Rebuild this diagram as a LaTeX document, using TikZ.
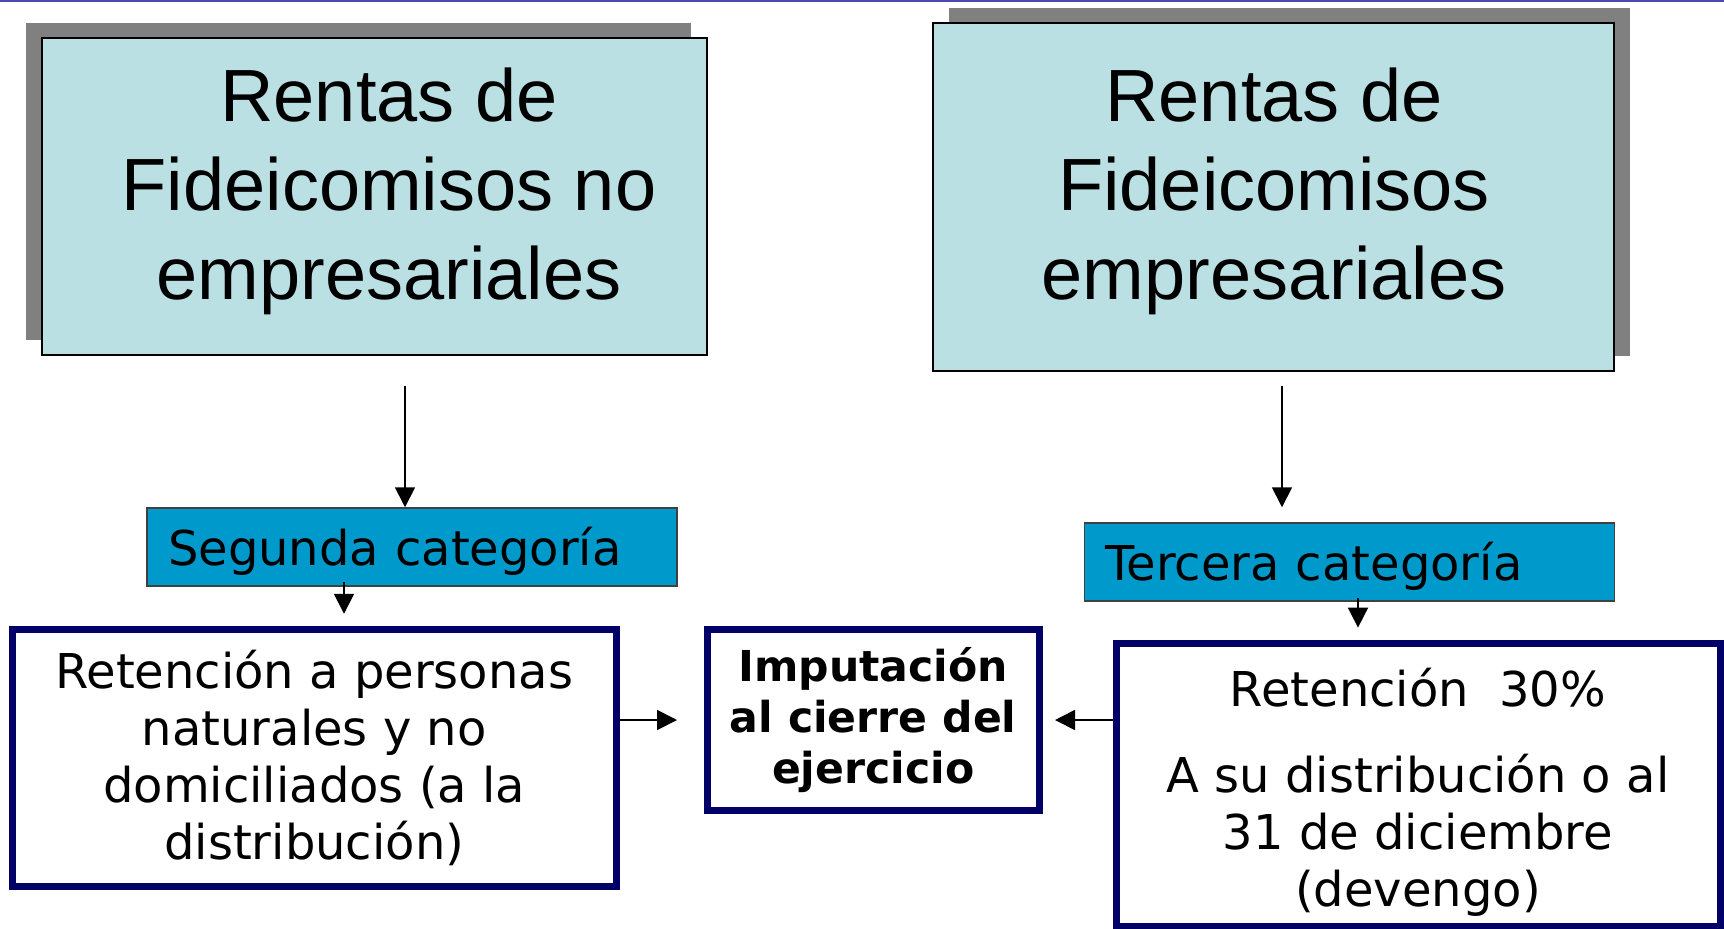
\documentclass[tikz,border=0pt]{standalone}
\usepackage{fontspec}
\newfontfamily\arialfont{Liberation Sans}
\newfontfamily\verdanafont{DejaVu Sans}
\usetikzlibrary{arrows.meta,shadows}

\definecolor{cajaclara}{HTML}{BBE0E3}
\definecolor{cajaazul}{HTML}{0099CC}
\definecolor{marino}{HTML}{000066}
\definecolor{lineatop}{HTML}{4A4AB0}

\tikzset{
    rentas/.style={draw=black, line width=1pt, fill=cajaclara},
    rentastxt/.style={align=center, inner sep=0pt,
	font=\arialfont\fontsize{37pt}{44.5pt}\selectfont},
    categ/.style={draw=black!75, line width=0.75pt, fill=cajaazul,
	text width=244pt, align=left, inner xsep=10.5pt,
	minimum height=39pt, text height=18pt, text depth=0pt,
	font=\verdanafont\fontsize{24pt}{28.5pt}\selectfont},
    reten/.style={draw=marino, line width=3.5pt, fill=white, align=center,
	font=\verdanafont\fontsize{24pt}{28.5pt}\selectfont},
    arr/.style={-{Triangle[length=10pt, width=10pt]}, line width=0.9pt}
}

\begin{document}
\begin{tikzpicture}[x=0.5pt, y=-0.5pt]
    \useasboundingbox (0, 0) rectangle (1724, 928);
    \clip (0, 0) rectangle (1724, 928);
    \draw[lineatop, line width=1pt] (0, 1) -- (1724, 1);

    % top boxes
    \node[rentas, minimum width=332.5pt, minimum height=158.5pt,
	general shadow={fill=gray, shadow xshift=-8pt, shadow yshift=7.5pt}]
	(lrentas) at (374.5, 196.5) {};
    \node[rentastxt] (lrentastxt) at (389, 191)
	{Rentas de\\Fideicomisos no\\empresariales};
    \node[rentas, minimum width=340.5pt, minimum height=174pt,
	general shadow={fill=gray, shadow xshift=8pt, shadow yshift=7.5pt}]
	(rrentas) at (1273.5, 197) {};
    \node[rentastxt] (rrentastxt) at (1274, 191)
	{Rentas de\\Fideicomisos\\empresariales};

    % categories
    \node[categ] (segunda) at (412, 547) {Segunda categoría};
    \node[categ] (tercera) at (1349.5, 562) {Tercera categoría};

    % bottom boxes
    \node[reten, minimum width=302.25pt, minimum height=128.75pt]
	(lreten) at (314.25, 758)
	{Retención a personas\\naturales y no\\domiciliados (a la\\distribución)};
    \node[reten, minimum width=166.25pt, minimum height=90.5pt,
	font=\verdanafont\bfseries\fontsize{21.3pt}{25.4pt}\selectfont]
	(imput) at (873.25, 720)
	{Imputación\\al cierre del\\ejercicio};
    \node[reten, minimum width=302.25pt, minimum height=141.9pt]
	(rreten) at (1418.25, 785) {};
    \node[align=center, inner sep=0pt, anchor=north,
	font=\verdanafont\fontsize{24pt}{28.5pt}\selectfont]
	(rretentxt) at (1418, 668)
	{Retención\ \ 30\%\\[14.5pt]A su distribución o al\\31 de diciembre\\(devengo)};

    % arrows
    \coordinate (la) at (405, 386);
    \coordinate (ra) at (1282, 386);
    \coordinate (ls) at (344, 582);
    \coordinate (rs) at (1358, 598);
    \draw[arr] (la) -- (la |- segunda.north);
    \draw[arr, shorten >=7.5pt] (ra) -- (ra |- tercera.north);
    \draw[arr, shorten >=6pt] (ls) -- (ls |- lreten.north);
    \draw[arr, shorten >=6pt] (rs) -- (rs |- rreten.north);
    \draw[arr, shorten >=13.25pt] (lreten.east |- imput.west) -- (imput.west);
    \draw[arr, shorten >=6pt] (rreten.west |- imput.east) -- (imput.east);
\end{tikzpicture}
\end{document}
